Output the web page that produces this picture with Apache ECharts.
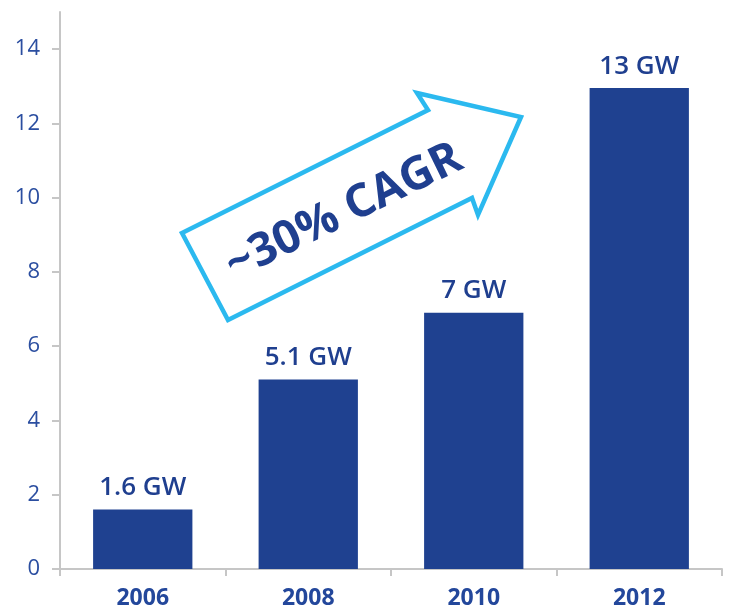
<!DOCTYPE html>
<html>
<head>
<meta charset="utf-8">
<script src="https://cdn.jsdelivr.net/npm/echarts@6/dist/echarts.min.js"></script>
<style>html,body{margin:0;padding:0;background:#fff}#c{width:732px;height:611px}</style>
</head>
<body>
<div id="c"></div>
<script>
const categories = ['2006', '2008', '2010', '2012'];
const capacityGW = [1.6, 5.1, 6.9, 12.95];
const barLabels = ['1.6 GW', '5.1 GW', '7 GW', '13 GW'];
const yTicks = [0, 2, 4, 6, 8, 10, 12, 14];
const arrowText = '~30% CAGR';

const FONT = '"Open Sans", sans-serif';
const chart = echarts.init(document.getElementById('c'));
chart.setOption({
  animation: false,
  backgroundColor: '#ffffff',
  grid: { left: 60, right: 10, top: 12, bottom: 42 },
  xAxis: {
    type: 'category',
    data: categories,
    axisLine: { lineStyle: { color: '#c6c6c6', width: 2 } },
    axisTick: { show: true, length: 7, lineStyle: { color: '#c6c6c6', width: 2 } },
    axisLabel: { fontFamily: FONT, fontWeight: 'bold', fontSize: 23, color: '#23479b', margin: 18 }
  },
  yAxis: {
    type: 'value',
    min: 0,
    max: 15,
    splitLine: { show: false },
    axisLine: { show: true, lineStyle: { color: '#c6c6c6', width: 2 } },
    axisTick: { show: true, length: 8, customValues: yTicks, lineStyle: { color: '#c6c6c6', width: 2 } },
    axisLabel: { customValues: yTicks, fontFamily: FONT, fontSize: 22, color: '#2b4ea0', margin: 20 }
  },
  series: [{
    type: 'bar',
    data: capacityGW,
    barWidth: '60%',
    itemStyle: { color: '#1f4190' },
    label: {
      show: true,
      position: 'top',
      distance: 9,
      formatter: p => barLabels[p.dataIndex],
      fontFamily: FONT,
      fontWeight: 600,
      fontSize: 26,
      color: '#1f3f8f'
    }
  }],
  graphic: [
    {
      type: 'polygon',
      shape: { points: [[182, 233], [428, 110], [417, 93], [521, 117], [478, 215], [472, 198], [228, 320]] },
      style: { fill: '#ffffff', stroke: '#2bb9ef', lineWidth: 4.5, lineJoin: 'miter' },
      z: 10
    },
    {
      type: 'text',
      x: 344, y: 212,
      rotation: 26 * Math.PI / 180,
      style: {
        text: arrowText,
        x: 0, y: 0,
        align: 'center', verticalAlign: 'middle',
        font: 'bold 46px "Open Sans", sans-serif',
        fill: '#1f3f8f'
      },
      z: 11
    }
  ]
});
</script>
</body>
</html>
